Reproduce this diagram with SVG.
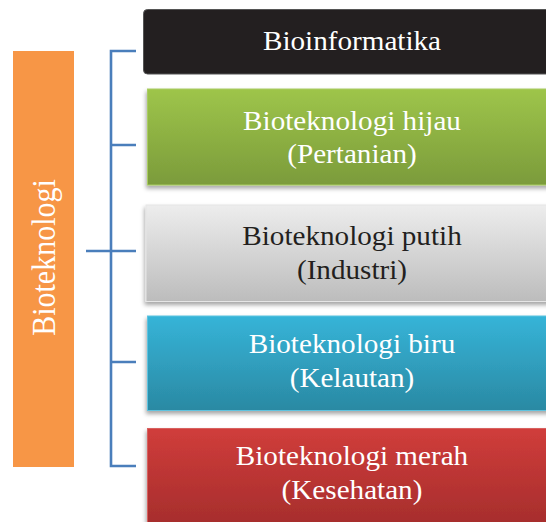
<svg xmlns="http://www.w3.org/2000/svg" width="546" height="522" viewBox="0 0 546 522">
  <style>
    .lbl { font-family: "Liberation Serif", "Times New Roman", serif; font-size: 27px; text-anchor: middle; fill: #ffffff; }
    .dark { fill: #231f20; }
    .side { font-family: "Liberation Serif", "Times New Roman", serif; font-size: 30px; text-anchor: middle; fill: #ffffff; }
    .bracket { fill: none; stroke: #4a7ebb; stroke-width: 2.6; }
  </style>
  <defs>
    <linearGradient id="gGreen" x1="0" y1="0" x2="0" y2="1">
      <stop offset="0" stop-color="#9ec54a"/>
      <stop offset="1" stop-color="#7b9b3b"/>
    </linearGradient>
    <linearGradient id="gGray" x1="0" y1="0" x2="0" y2="1">
      <stop offset="0" stop-color="#ededed"/>
      <stop offset="1" stop-color="#bcbcbc"/>
    </linearGradient>
    <linearGradient id="gBlue" x1="0" y1="0" x2="0" y2="1">
      <stop offset="0" stop-color="#36b4d8"/>
      <stop offset="1" stop-color="#2a89a3"/>
    </linearGradient>
    <linearGradient id="gRed" x1="0" y1="0" x2="0" y2="1">
      <stop offset="0" stop-color="#d03d3b"/>
      <stop offset="1" stop-color="#a02b2a"/>
    </linearGradient>
    <filter id="shadow" x="-10%" y="-10%" width="130%" height="130%">
      <feDropShadow dx="-1" dy="3" stdDeviation="2" flood-color="#000000" flood-opacity="0.35"/>
    </filter>
  </defs>

  <!-- root label -->
  <g id="bioteknologi">
    <rect x="13" y="51" width="61" height="416" fill="#f79646"/>
    <g transform="translate(43.5 257.5) scale(1.12 1) rotate(-90)">
      <text class="side" x="0" y="10.3">Bioteknologi</text>
    </g>
  </g>

  <!-- bracket connecting the root to each branch -->
  <g id="connectors">
    <path class="bracket" d="M136 51 H111 V466 H136"/>
    <path class="bracket" d="M111 145 H136 M86 251 H136 M111 362 H136"/>
  </g>

  <g id="bioinformatika">
    <rect x="143.5" y="9.5" width="420" height="64.5" rx="4" fill="#231f20" stroke="#555555" stroke-width="1"/>
    <g transform="translate(352 0) scale(1.08 1)">
      <text class="lbl" x="0" y="50">Bioinformatika</text>
    </g>
  </g>

  <g id="hijau">
    <rect x="147.5" y="89" width="420" height="96" fill="url(#gGreen)" stroke="#a9cc62" stroke-width="1" filter="url(#shadow)"/>
    <g transform="translate(352 0) scale(1.08 1)">
      <text class="lbl" x="0" y="130">Bioteknologi hijau</text>
      <text class="lbl" x="0" y="163.5">(Pertanian)</text>
    </g>
  </g>

  <g id="putih">
    <rect x="146" y="205" width="420" height="96.5" fill="url(#gGray)" stroke="#e6e6e6" stroke-width="1" filter="url(#shadow)"/>
    <g transform="translate(352 0) scale(1.08 1)">
      <text class="lbl dark" x="0" y="245.5">Bioteknologi putih</text>
      <text class="lbl dark" x="0" y="279.5">(Industri)</text>
    </g>
  </g>

  <g id="biru">
    <rect x="147.5" y="316" width="420" height="94.5" fill="url(#gBlue)" stroke="#5fc3df" stroke-width="1" filter="url(#shadow)"/>
    <g transform="translate(352 0) scale(1.08 1)">
      <text class="lbl" x="0" y="353.5">Bioteknologi biru</text>
      <text class="lbl" x="0" y="387.5">(Kelautan)</text>
    </g>
  </g>

  <g id="merah">
    <rect x="147.5" y="428.5" width="420" height="110" fill="url(#gRed)" stroke="#d8605e" stroke-width="1" filter="url(#shadow)"/>
    <g transform="translate(352 0) scale(1.08 1)">
      <text class="lbl" x="0" y="465">Bioteknologi merah</text>
      <text class="lbl" x="0" y="499">(Kesehatan)</text>
    </g>
  </g>
</svg>
